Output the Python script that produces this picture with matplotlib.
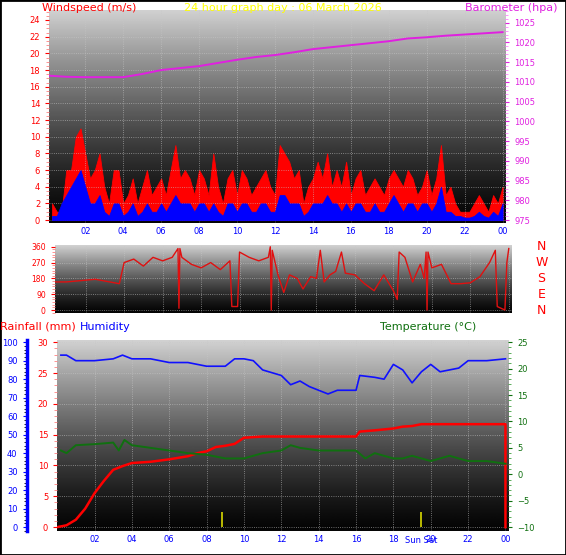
import numpy as np
import matplotlib
matplotlib.use("Agg")
import matplotlib.pyplot as plt
from matplotlib.ticker import MultipleLocator

# ---- data ----
wind_hours = np.arange(0.25, 24.01, 0.25)
gust = [2, 1, 1, 6, 6, 10, 11, 8, 5, 6, 8, 4, 2, 6, 6, 2, 3, 5, 2, 4, 6, 3, 4, 5,
        3, 6, 9, 5, 6, 5, 3, 6, 5, 3, 8, 4, 2, 5, 6, 3, 6, 5, 3, 4, 5, 6, 4, 3,
        9, 8, 7, 5, 6, 2, 4, 5, 7, 5, 8, 4, 6, 4, 7, 3, 5, 6, 3, 4, 5, 4, 3, 5,
        6, 5, 4, 6, 5, 3, 4, 6, 3, 5, 9, 3, 4, 2, 1, 1, 1, 2, 3, 2, 1, 3, 2, 4]
avg = [0.5, 0.5, 2, 3, 4, 5, 6, 4, 2, 2, 3, 1, 0.5, 2, 2, 0.5, 1, 2, 0.5, 1, 2, 1, 1, 2,
       1, 2, 3, 2, 2, 2, 1, 2, 2, 1, 2, 1, 0.5, 2, 2, 1, 2, 2, 1, 1, 2, 2, 1, 1,
       3, 3, 2, 2, 2, 0.5, 1, 2, 2, 2, 3, 2, 2, 1, 2, 1, 2, 2, 1, 1, 2, 1, 1, 2,
       3, 2, 1, 2, 2, 1, 2, 2, 1, 2, 4, 1, 1, 0.5, 0.5, 0.3, 0.3, 0.5, 1, 0.5, 0.3, 1, 0.5, 2]

baro_hours = np.arange(0, 25)
baro = [1011.6, 1011.3, 1011.2, 1011.2, 1011.2, 1012.0, 1013.0, 1013.5, 1014.0, 1014.8,
        1015.6, 1016.3, 1016.8, 1017.5, 1018.3, 1018.8, 1019.3, 1019.8, 1020.3, 1021.0,
        1021.3, 1021.7, 1022.0, 1022.3, 1022.6]

dir_hours = [0.4, 0.5, 1, 1.5, 2, 2.5, 3, 3.5, 3.75, 4, 4.5, 5, 5.5, 6, 6.5, 6.8, 6.85, 6.9, 7,
             7.5, 8, 8.5, 9, 9.5, 9.6, 9.9, 10, 10.5, 11, 11.5, 11.6, 11.65, 11.7, 12, 12.3,
             12.6, 13, 13.3, 13.7, 14, 14.2, 14.4, 14.7, 15, 15.3, 15.5, 16, 16.5, 17, 17.5,
             18, 18.2, 18.3, 18.6, 19, 19.4, 19.6, 19.7, 19.75, 19.8, 20, 20.5, 21, 21.5, 22,
             22.5, 23, 23.3, 23.4, 23.8, 23.9, 24]
wind_dir = [160, 160, 160, 165, 170, 175, 165, 155, 150, 270, 290, 250, 300, 280, 300, 350, 10,
            350, 300, 260, 240, 270, 230, 280, 20, 20, 330, 300, 280, 300, 360, 0, 340, 200,
            100, 200, 180, 120, 190, 180, 340, 160, 200, 220, 330, 210, 200, 150, 110, 200,
            110, 60, 330, 300, 160, 260, 180, 330, 0, 330, 240, 260, 150, 150, 155, 190, 270,
            340, 20, 0, 270, 350]

hum_hours = [0.2, 0.5, 1, 2, 3, 3.5, 4, 5, 6, 7, 8, 9, 9.5, 10, 10.5, 11, 12, 12.5, 13, 13.5,
             14, 14.5, 15, 15.5, 16, 16.2, 17, 17.5, 18, 18.5, 19, 19.5, 20, 20.5, 21, 21.5,
             22, 23, 24]
humidity = [93, 93, 90, 90, 91, 93, 91, 91, 89, 89, 87, 87, 91, 91, 90, 85, 82, 77, 79, 76,
            74, 72, 74, 74, 74, 82, 81, 80, 88, 85, 78, 84, 88, 84, 85, 86, 90, 90, 91]

temp_hours = [0.2, 0.5, 1, 2, 3, 3.3, 3.6, 4, 5, 6, 7, 8, 9, 10, 11, 12, 12.5, 13, 14, 15, 16,
              16.5, 17, 18, 18.5, 19, 19.5, 20, 20.5, 21, 21.5, 22, 23, 24]
temperature = [4.5, 4, 5.5, 5.7, 6, 4.5, 6.5, 5.5, 5, 4.5, 4, 3.7, 3, 3, 4, 4.5, 5.5, 5, 4.5,
               4.5, 4.5, 3, 4, 3, 3, 3.5, 3, 2.5, 3, 3.5, 3, 2.5, 2.5, 2]

rain_hours = [0, 0.5, 1, 1.5, 2, 2.5, 3, 3.5, 4, 5, 6, 7, 7.5, 8, 8.5, 9, 9.5, 10, 11, 12, 16,
              16.2, 17, 18, 18.5, 19, 19.5, 24, 24]
rainfall = [0, 0.3, 1.2, 3, 5.5, 7.5, 9.3, 9.9, 10.4, 10.6, 11, 11.5, 12, 12.3, 13, 13.2, 13.5,
            14.5, 14.7, 14.7, 14.7, 15.5, 15.7, 16, 16.3, 16.4, 16.7, 16.7, 0]

sun_hours = [8.8, 19.5]
hour_ticks = list(range(2, 25, 2))
hour_labels = ["%02d" % (h % 24) for h in hour_ticks]

grad = np.linspace(0, 1, 256).reshape(-1, 1) ** 1.3


def background(ax):
    ax.imshow(grad, cmap="gray", vmin=-0.02, vmax=1.22, aspect="auto",
              extent=[0, 1, 0, 1], transform=ax.transAxes, origin="lower", zorder=0)
    ax.grid(True, color="#c8c8c8", linestyle=":", linewidth=0.6, alpha=0.7, zorder=1)
    ax.set_axisbelow(False)
    for s in ax.spines.values():
        s.set_visible(False)


def hour_axis(ax, lo):
    ax.set_xlim(lo, 24.15)
    ax.set_xticks(hour_ticks)
    ax.set_xticklabels(hour_labels, color="blue", fontsize=6)
    ax.tick_params(axis="x", length=0, pad=3)


fig = plt.figure(figsize=(5.66, 5.55), dpi=100)
fig.patch.set_facecolor("white")
fig.add_artist(plt.Rectangle((0, 0), 1, 1, transform=fig.transFigure,
                             fill=False, edgecolor="black", linewidth=2))

# ---- top panel: wind + barometer ----
ax1 = fig.add_axes([0.087, 0.598, 0.806, 0.384])
background(ax1)
ax1.fill_between(wind_hours, gust, color="red", zorder=2, linewidth=0.6, edgecolor="red")
ax1.fill_between(wind_hours, avg, color="blue", zorder=3, linewidth=0.6, edgecolor="blue")
ax1.set_ylim(-0.36, 25.2)
ax1.yaxis.set_major_locator(MultipleLocator(2))
ax1.yaxis.set_minor_locator(MultipleLocator(0.5))
ax1.tick_params(axis="y", colors="red", labelsize=6, length=3)
ax1.tick_params(axis="y", which="minor", colors="#ff8080", length=2)
hour_axis(ax1, 0.1)
ax1b = ax1.twinx()
for s in ax1b.spines.values():
    s.set_visible(False)
ax1b.plot(baro_hours, baro, color="#e020e0", linewidth=1.4, zorder=4)
ax1b.set_ylim(975 - 0.36 * 50 / 23.68, 975 + 25.2 * 50 / 23.68)
ax1b.yaxis.set_major_locator(MultipleLocator(5))
ax1b.yaxis.set_minor_locator(MultipleLocator(1))
ax1b.tick_params(axis="y", colors="#e020e0", labelsize=6, length=3)
ax1b.tick_params(axis="y", which="minor", colors="#ff80ff", length=2)
fig.text(0.075, 0.995, "Windspeed (m/s)", color="red", fontsize=8, va="top", ha="left")
fig.text(0.5, 0.995, "24 hour graph day : 06 March 2026", color="yellow", fontsize=8, va="top", ha="center")
fig.text(0.985, 0.995, "Barometer (hpa)", color="#e020e0", fontsize=8, va="top", ha="right")

# ---- middle panel: wind direction ----
ax2 = fig.add_axes([0.097, 0.436, 0.807, 0.1225])
background(ax2)
ax2.plot(dir_hours, wind_dir, color="#e01010", linewidth=1.0, zorder=3)
ax2.set_ylim(-17, 370)
ax2.set_yticks([0, 90, 180, 270, 360])
ax2.yaxis.set_minor_locator(MultipleLocator(15))
ax2.tick_params(axis="y", colors="red", labelsize=5.5, length=3)
ax2.tick_params(axis="y", which="minor", colors="#ff8080", length=2)
hour_axis(ax2, 0.4)
ax2.set_xticklabels([])
for lab, yy in zip(["N", "W", "S", "E", "N"], [360, 270, 180, 90, 0]):
    ax2.text(1.065, (yy + 17) / 387, lab, transform=ax2.transAxes, color="red",
             fontsize=9, va="center", ha="center")

# ---- bottom panel: rain, humidity, temperature ----
ax3 = fig.add_axes([0.101, 0.043, 0.797, 0.344])
background(ax3)
ax3.set_ylim(-0.65, 30.32)
ax3.plot(rain_hours, rainfall, color="red", linewidth=1.8, zorder=5)
ax3.vlines(sun_hours, 0, 2.5, color="#d8d800", linewidth=1.2, zorder=4)
ax3.yaxis.set_major_locator(MultipleLocator(5))
ax3.yaxis.set_minor_locator(MultipleLocator(1))
ax3.tick_params(axis="y", colors="red", labelsize=6, length=3)
ax3.tick_params(axis="y", which="minor", colors="#ff8080", length=2)
hour_axis(ax3, 0)
ax3.text(sun_hours[1], -0.025, "Sun Set", color="blue", fontsize=6, ha="center", va="top",
         transform=ax3.get_xaxis_transform())

ax3h = ax3.twinx()
for s in ax3h.spines.values():
    s.set_visible(False)
ax3h.spines["left"].set_visible(True)
ax3h.spines["left"].set_position(("outward", 22))
ax3h.spines["left"].set_color("blue")
ax3h.spines["left"].set_linewidth(2.5)
ax3h.yaxis.set_label_position("left")
ax3h.yaxis.tick_left()
ax3h.plot(hum_hours, humidity, color="#1010ff", linewidth=1.2, zorder=4)
ax3h.set_ylim(-0.65 * 100 / 30, 30.32 * 100 / 30)
ax3h.yaxis.set_major_locator(MultipleLocator(10))
ax3h.yaxis.set_minor_locator(MultipleLocator(2))
ax3h.tick_params(axis="y", colors="blue", labelsize=6, length=3)

ax3t = ax3.twinx()
for s in ax3t.spines.values():
    s.set_visible(False)
ax3t.plot(temp_hours, temperature, color="#107010", linewidth=1.4, zorder=4)
ax3t.set_ylim(-10 - 0.65 * 35 / 30, -10 + 30.32 * 35 / 30)
ax3t.yaxis.set_major_locator(MultipleLocator(5))
ax3t.yaxis.set_minor_locator(MultipleLocator(1))
ax3t.tick_params(axis="y", colors="#107010", labelsize=6, length=3)
ax3t.tick_params(axis="y", which="minor", colors="#40a040", length=2)

fig.text(0.0, 0.411, "Rainfall (mm)", color="red", fontsize=8, va="center", ha="left")
fig.text(0.142, 0.411, "Humidity", color="blue", fontsize=8, va="center", ha="left")
fig.text(0.672, 0.411, "Temperature (°C)", color="#107010", fontsize=8, va="center", ha="left")

fig.savefig("out.png", dpi=100)
